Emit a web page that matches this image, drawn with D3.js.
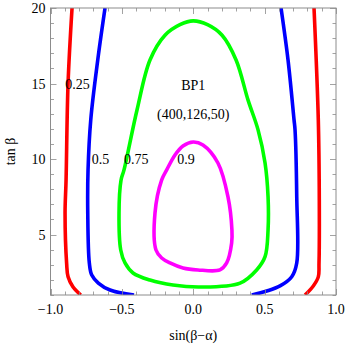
<!DOCTYPE html>
<html>
<head>
<meta charset="utf-8">
<script src="https://cdn.jsdelivr.net/npm/d3@7"></script>
<style>
  body { margin: 0; background: #fff; }
  svg text { font-family: "Liberation Serif", "DejaVu Serif", serif; fill: #000; }
</style>
</head>
<body>
<svg id="chart" width="346" height="347"></svg>
<script>
// contour levels, x = sin(beta-alpha), y = tan beta
var levels = ['0.25', '0.5', '0.75', '0.9'];
var colors = ['#ff0000', '#0000ff', '#00ff00', '#ff00ff'];

var redLeftX = [-0.849, -0.877, -0.891, -0.898, -0.887, -0.877, -0.842, -0.788];
var redLeftY = [20, 15, 8.6, 6.4, 3.1, 2.2, 1.53, 1.0];
var redRightX = [0.846, 0.876, 0.883, 0.881, 0.876, 0.841, 0.783];
var redRightY = [20, 12.6, 7.3, 3.1, 2.2, 1.6, 1.0];

var blueLeftX = [-0.618, -0.669, -0.718, -0.737, -0.739, -0.728, -0.711, -0.665, -0.583, -0.415];
var blueLeftY = [20, 16.56, 12.6, 9.28, 6.43, 3.12, 2.32, 1.79, 1.33, 1.0];
var blueRightX = [0.615, 0.664, 0.706, 0.713, 0.725, 0.725, 0.690, 0.608, 0.515, 0.410];
var blueRightY = [20, 16.56, 12.6, 11.93, 7.51, 3.12, 2.21, 1.6, 1.26, 1.0];

var greenX = [0.0, -0.093, -0.198, -0.303, -0.394, -0.485, -0.506, -0.520, -0.508, -0.478, -0.422, -0.303, -0.142, 0.047,
  0.328, 0.444, 0.503, 0.524, 0.524, 0.503, 0.454, 0.384, 0.300, 0.202, 0.100];
var greenY = [19.15, 18.9, 18.2, 16.56, 13.25, 9.28, 8.6, 6.43, 3.98, 3.12, 2.46, 1.99, 1.66, 1.53,
  1.79, 2.66, 3.54, 5.3, 7.51, 9.74, 11.93, 13.9, 16.56, 18.2, 18.9];

var magentaX = [0.0, 0.068, 0.173, 0.243, 0.271, 0.269, 0.234, 0.187, 0.033, -0.072, -0.163, -0.221, -0.261, -0.268, -0.221, -0.186, -0.128, -0.072];
var magentaY = [11.13, 10.93, 9.74, 7.51, 5.3, 4.44, 3.12, 2.66, 2.66, 2.79, 3.12, 3.45, 3.98, 6.43, 8.62, 9.28, 10.27, 10.87];

var xTicks = [-1.0, -0.5, 0.0, 0.5, 1.0];
var yTicks = [5, 10, 15, 20];

// plot box (note: "top" is a reserved window global, so use pl/pr/pt/pb)
var pl = 50.5, pr = 336, pt = 8, pb = 295;

var x = d3.scaleLinear().domain([-1, 1]).range([pl, pr]);
var y = d3.scaleLinear().domain([1, 20]).range([pb, pt]);

var svg = d3.select('#chart');

svg.append('clipPath').attr('id', 'plot-clip')
  .append('rect')
  .attr('x', pl).attr('y', pt)
  .attr('width', pr - pl).attr('height', pb - pt);

function zipPts(xs, ys) {
  return xs.map(function (v, i) { return [v, ys[i]]; });
}

var openLine = d3.line()
  .x(function (d) { return x(d[0]); })
  .y(function (d) { return y(d[1]); })
  .curve(d3.curveCatmullRom.alpha(0.5));

var closedLine = d3.line()
  .x(function (d) { return x(d[0]); })
  .y(function (d) { return y(d[1]); })
  .curve(d3.curveCatmullRomClosed.alpha(0.5));

var curves = [
  { pts: zipPts(redLeftX, redLeftY), c: colors[0], closed: false },
  { pts: zipPts(redRightX, redRightY), c: colors[0], closed: false },
  { pts: zipPts(blueLeftX, blueLeftY), c: colors[1], closed: false },
  { pts: zipPts(blueRightX, blueRightY), c: colors[1], closed: false },
  { pts: zipPts(greenX, greenY), c: colors[2], closed: true },
  { pts: zipPts(magentaX, magentaY), c: colors[3], closed: true }
];

var g = svg.append('g').attr('clip-path', 'url(#plot-clip)');
g.selectAll('path')
  .data(curves)
  .enter().append('path')
  .attr('d', function (d) { return d.closed ? closedLine(d.pts) : openLine(d.pts); })
  .attr('fill', 'none')
  .attr('stroke', function (d) { return d.c; })
  .attr('stroke-width', 3.6)
  .attr('stroke-linejoin', 'round');

// frame with inward ticks on all four sides
var frameColor = '#8c8c8c';
var xMinor = d3.range(-10, 11).map(function (i) { return i / 10; });
var yMinor = d3.range(1, 21);

function isMajorX(v) { return Math.abs(v * 2 - Math.round(v * 2)) < 1e-6; }

var ticks = svg.append('g').attr('stroke', frameColor).attr('stroke-width', 0.8);
xMinor.forEach(function (v) {
  var len = isMajorX(v) ? 6 : 3.5;
  var px = Math.round(x(v)) + 0.5;
  ticks.append('line').attr('x1', px).attr('x2', px).attr('y1', pb).attr('y2', pb - len);
  ticks.append('line').attr('x1', px).attr('x2', px).attr('y1', pt).attr('y2', pt + len);
});
yMinor.forEach(function (v) {
  var len = v % 5 === 0 ? 6 : 3.5;
  var py = Math.round(y(v)) + 0.5;
  ticks.append('line').attr('x1', pl).attr('x2', pl + len).attr('y1', py).attr('y2', py);
  ticks.append('line').attr('x1', pr).attr('x2', pr - len).attr('y1', py).attr('y2', py);
});

svg.append('rect')
  .attr('x', pl).attr('y', pt)
  .attr('width', pr - pl).attr('height', pb - pt)
  .attr('fill', 'none')
  .attr('stroke', frameColor)
  .attr('stroke-width', 1);

var fmtX = function (v) { return d3.format('.1f')(v).replace('-', '\u2212'); };

svg.append('g').selectAll('text')
  .data(xTicks)
  .enter().append('text')
  .attr('x', function (d) { return x(d); })
  .attr('y', pb + 19)
  .attr('text-anchor', 'middle')
  .style('font-size', '14px')
  .text(fmtX);

svg.append('g').selectAll('text')
  .data(yTicks)
  .enter().append('text')
  .attr('x', pl - 5)
  .attr('y', function (d) { return y(d) + 5; })
  .attr('text-anchor', 'end')
  .style('font-size', '14px')
  .text(function (d) { return d; });

svg.append('text')
  .attr('x', (pl + pr) / 2)
  .attr('y', 340)
  .attr('text-anchor', 'middle')
  .style('font-size', '14px')
  .text('sin(\u03b2\u2212\u03b1)');

svg.append('text')
  .attr('transform', 'translate(15,' + ((pt + pb) / 2) + ') rotate(-90)')
  .attr('text-anchor', 'middle')
  .style('font-size', '14px')
  .text('tan \u03b2');

// contour labels and benchmark note
var labelX = [-0.81, -0.65, -0.40, -0.05];
var labelY = [15, 10, 10, 10];
svg.append('g').selectAll('text')
  .data(levels)
  .enter().append('text')
  .attr('x', function (d, i) { return x(labelX[i]); })
  .attr('y', function (d, i) { return y(labelY[i]) + 5; })
  .attr('text-anchor', 'middle')
  .style('font-size', '14px')
  .text(function (d) { return d; });

svg.append('text')
  .attr('x', x(0)).attr('y', y(14.9) + 5)
  .attr('text-anchor', 'middle')
  .style('font-size', '14px')
  .text('BP1');
svg.append('text')
  .attr('x', x(0)).attr('y', y(13.0) + 5)
  .attr('text-anchor', 'middle')
  .style('font-size', '14px')
  .text('(400,126,50)');
</script>
</body>
</html>
